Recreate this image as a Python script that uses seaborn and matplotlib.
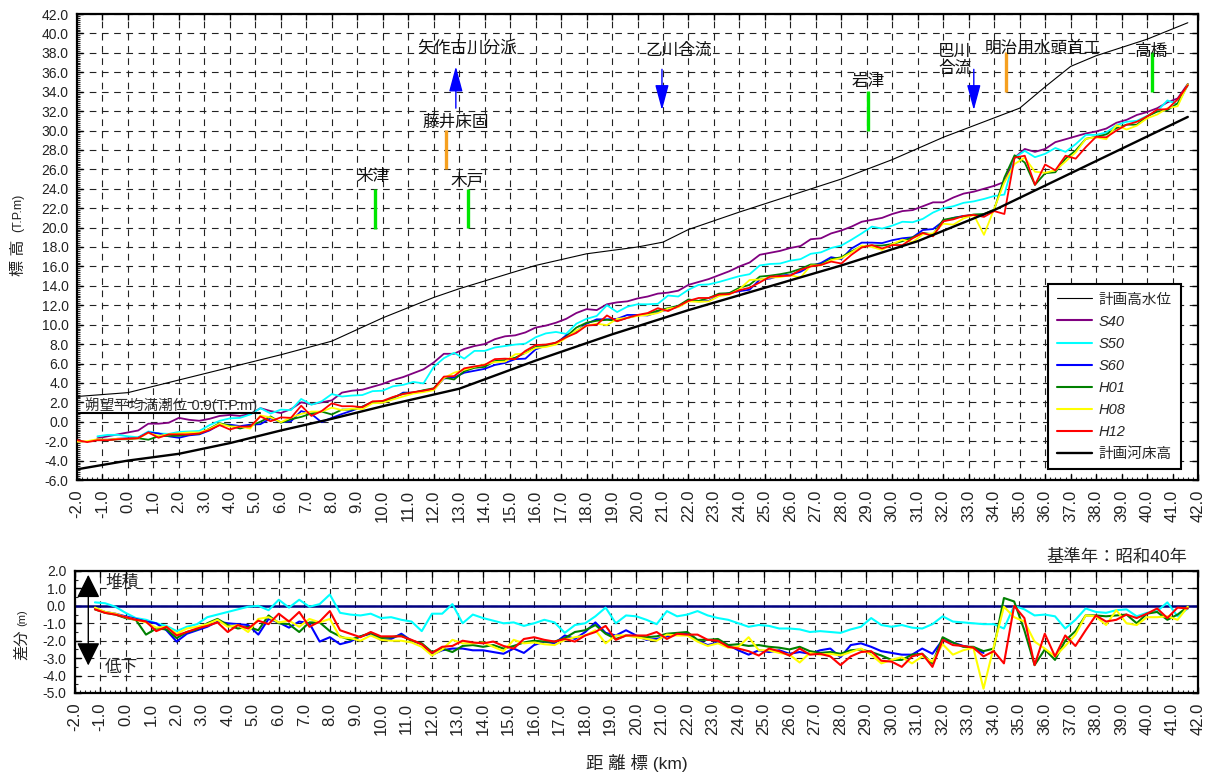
import numpy as np
import pandas as pd
import matplotlib
matplotlib.use("Agg")
import matplotlib.pyplot as plt
from matplotlib.lines import Line2D
from matplotlib.ticker import MultipleLocator, FormatStrFormatter
import seaborn as sns

sns.set_style("ticks")
plt.rcParams["font.family"] = ["Liberation Sans", "Noto Sans CJK JP"]
plt.rcParams["axes.unicode_minus"] = False

# ---------------------------------------------------------------- data
# survey stations (km), every 400 m
km = np.round(np.arange(-1.2, 41.6 + 0.01, 0.4), 1)

# 昭和40年 (S40) mean bed elevation, T.P.m
s40 = [-1.7, -1.5, -1.3, -1.1, -0.9, -0.2, -0.2, -0.1, 0.4, 0.2, 0.1, 0.3, 0.6, 0.7,
       0.6, 0.8, 1.4, 1.1, 0.9, 1.3, 2.0, 1.8, 2.0, 2.2, 3.0, 3.2, 3.3,
       3.6, 3.9, 4.3, 4.6, 5.0, 5.4, 6.1, 7.0, 7.0, 7.5, 7.8, 8.0, 8.5, 8.8,
       8.9, 9.2, 9.7, 9.9, 10.2, 10.6, 11.2, 11.6, 11.5, 12.1, 12.3, 12.4, 12.7,
       12.9, 13.2, 13.3, 13.5, 14.1, 14.4, 14.7, 15.1, 15.5, 16.0, 16.4, 17.2, 17.4, 17.6,
       17.9, 18.1, 18.8, 18.9, 19.4, 19.7, 20.1, 20.6, 20.8, 21.0, 21.4, 21.7, 21.8, 22.2,
       22.6, 22.6, 23.1, 23.5, 23.7, 24.0, 24.3, 24.7, 27.2, 28.1, 27.8, 28.1, 28.8,
       29.1, 29.4, 29.7, 29.9, 30.2, 30.8, 31.1, 31.6, 31.9, 32.3, 32.9, 33.3, 34.8]

# change from S40 (m) for each later survey
d_s50 = [0.2, 0.15, -0.05, -0.4, -0.7, -0.8, -1.0, -1.15, -1.45, -1.2, -1.05, -0.65, -0.5,
         -0.35, -0.2, -0.05, 0.0, -0.25, 0.35, -0.1, 0.35, -0.05, 0.1, 0.65, -0.4, -0.5, -0.55,
         -0.45, -0.7, -0.65, -0.8, -0.9, -1.45, -0.45, -0.45, 0.1, -1.0, -0.5, -0.7, -0.85,
         -1.0, -0.95, -1.15, -1.0, -0.8, -0.95, -1.55, -1.1, -1.0, -0.6, -0.1, -1.0, -0.55, -0.6,
         -0.8, -1.05, -0.3, -0.6, -0.5, -0.3, -0.55, -0.7, -0.8, -1.0, -1.2, -1.1, -1.15, -1.3,
         -1.3, -1.35, -1.5, -1.45, -1.5, -1.55, -1.35, -1.2, -0.7, -1.1, -1.2, -1.1, -1.25, -1.3,
         -1.05, -0.6, -0.9, -0.95, -1.0, -1.05, -1.05, -1.3, 0.0, -0.2, -0.55, -0.5, -0.6,
         -1.3, -0.8, -0.15, -0.35, -0.4, -0.25, -0.2, -0.6, -0.4, -0.3, 0.2, -0.6, -0.15]
d_s60 = [-0.15, -0.35, -0.45, -0.6, -0.75, -0.9, -1.0, -1.4, -2.05, -1.6, -1.4, -1.2, -0.9,
         -1.0, -1.05, -1.1, -1.65, -0.75, -0.95, -1.25, -0.9, -1.0, -2.05, -1.8, -2.2, -2.05, -1.75,
         -1.6, -1.95, -1.9, -1.6, -2.0, -2.2, -2.8, -2.55, -2.45, -2.45, -2.55, -2.55, -2.65,
         -2.75, -2.45, -2.7, -2.25, -2.05, -2.15, -1.7, -1.9, -1.5, -0.95, -1.55, -1.7, -1.4, -1.7,
         -1.95, -1.9, -1.75, -1.65, -1.6, -2.0, -2.25, -2.1, -2.25, -2.55, -2.8, -2.55, -2.65,
         -2.55, -2.75, -2.65, -2.75, -2.55, -2.45, -2.95, -2.25, -2.15, -2.35, -2.6, -2.7, -2.8,
         -2.8, -2.45,
         -2.75, -1.95, -2.1, -2.3, -2.4, -2.7] + [np.nan] * 20
d_h01 = [-0.2, -0.4, -0.5, -0.7, -0.8, -1.65, -1.3, -1.35, -1.85, -1.5, -1.35, -1.0, -0.75,
         -1.1, -1.3, -1.2, -1.4, -0.55, -1.0, -1.05, -1.5, -0.95, -0.95, -1.45, -1.75, -1.95, -1.75,
         -1.55, -1.85, -1.8, -1.7, -2.0, -2.15, -2.65, -2.45, -2.65, -2.3, -2.25, -2.35, -2.25,
         -2.45, -2.3, -2.1, -2.0, -2.05, -2.05, -1.85, -1.5, -1.4, -1.1, -1.6, -1.9, -1.7, -1.75,
         -1.8, -1.75, -1.6, -1.55, -1.5, -1.95, -1.95, -1.9, -2.25, -2.2, -2.3, -2.25, -2.35,
         -2.4, -2.5, -2.35, -2.6, -2.7, -2.65, -2.75, -2.55, -2.5, -2.65, -2.85, -3.1, -3.1,
         -2.8, -2.75,
         -3.3, -1.8, -2.1, -2.35, -2.35, -2.6, -2.45, 0.45, 0.25, -1.4, -3.4, -2.5, -3.1,
         -2.0, -1.45, -0.55, -0.55, -0.6, -0.55, -0.5, -1.0, -0.45, -0.35, -0.8, -0.5, -0.05]
d_h08 = [-0.1, -0.35, -0.45, -0.65, -0.8, -0.95, -1.25, -1.2, -1.6, -1.3, -1.2, -1.05, -0.8,
         -1.2, -1.1, -1.5, -0.75, -0.65, -0.95, -0.85, -1.2, -0.75, -0.95, -0.75, -1.8, -1.85, -2.0,
         -1.7, -1.95, -2.0, -2.0, -2.1, -2.35, -2.85, -2.5, -1.95, -2.15, -2.15, -2.1, -2.35,
         -2.6, -1.95, -2.15, -2.1, -2.2, -2.25, -1.95, -1.8, -1.7, -1.4, -2.15, -1.7, -1.7, -1.8,
         -1.9, -2.0, -1.65, -1.7, -1.7, -2.05, -2.3, -2.15, -2.4, -2.35, -1.8, -2.55, -2.55,
         -2.7, -2.8, -3.25, -2.7, -2.8, -2.75, -2.85, -2.65, -2.45, -2.8, -3.3, -3.1, -2.95,
         -3.3, -2.9,
         -3.2, -2.2, -2.8, -2.55, -2.4, -4.75, -2.35, -0.05, -0.65, -0.9, -2.05, -2.45, -2.9,
         -2.3, -1.65, -0.55, -0.6, -1.1, -0.25, -1.0, -1.1, -0.65, -0.65, -0.6, -0.8, -0.05]
d_h12 = [-0.2, -0.4, -0.5, -0.65, -0.8, -0.9, -1.45, -1.2, -1.7, -1.5, -1.3, -1.15, -0.95,
         -1.5, -1.1, -1.3, -0.85, -1.05, -0.45, -0.9, -0.35, -1.2, -0.9, -0.3, -1.4, -1.6, -1.8,
         -1.5, -1.75, -1.75, -1.75, -1.95, -2.2, -2.7, -2.35, -2.3, -2.0, -2.1, -2.15, -2.05,
         -2.3, -2.45, -1.9, -1.8, -1.95, -2.05, -1.9, -2.05, -1.7, -1.5, -1.15, -1.95, -1.7, -1.7,
         -1.7, -1.5, -1.9, -1.6, -1.65, -1.65, -1.95, -2.0, -2.35, -2.45, -2.6, -2.85, -2.45,
         -2.6, -2.85, -2.45, -2.8, -2.75, -2.9, -3.4, -2.9, -2.65, -2.6, -3.15, -3.2, -3.5,
         -2.9, -2.75,
         -3.5, -1.95, -2.25, -2.3, -2.4, -2.9, -2.6, -3.3, 0.0, -0.7, -3.4, -1.6, -2.9,
         -1.7, -2.3, -1.4, -0.55, -0.9, -0.8, -0.5, -0.7, -0.45, -0.15, -0.7, -0.1, -0.15]

# H08 / H12 surveys also cover the river mouth reach
mouth_km = [-2.0, -1.6]
h08_mouth = [-2.05, -2.0]
h12_mouth = [-1.9, -2.1]

# design high water level and design bed profile
hwl_km = [-2, 0, 2, 4, 6, 8, 9, 10, 12, 13, 14, 16, 18, 20, 21, 22, 24, 26, 28, 30,
          32, 34, 35, 36, 37, 38, 40, 41.6]
hwl = [2.6, 3.0, 4.3, 5.6, 6.9, 8.3, 9.5, 10.7, 12.8, 13.7, 14.5, 16.1, 17.3, 18.0, 18.5,
       19.8, 21.6, 23.3, 25.0, 27.0, 29.3, 31.3, 32.3, 34.5, 36.6, 37.7, 39.4, 41.1]
bed_km = [-2, 0, 2, 4, 6, 8, 10, 13, 16, 19, 22, 25, 28, 31, 34, 41.6]
bed = [-4.9, -4.0, -3.3, -2.2, -0.9, 0.3, 1.6, 3.4, 6.3, 9.0, 11.5, 13.8, 16.1, 18.6,
       21.8, 31.4]

mean_high_tide = 0.9

series = ["S40", "S50", "S60", "H01", "H08", "H12"]
colors = {"S40": "#800080", "S50": "#00FFFF", "S60": "#0000FF",
          "H01": "#008000", "H08": "#FFFF00", "H12": "#FF0000"}
diffs = {"S50": d_s50, "S60": d_s60, "H01": d_h01, "H08": d_h08, "H12": d_h12}

# ---------------------------------------------------------------- tables
base = np.array(s40, dtype=float)
rows_top, rows_diff = [], []
for name in series:
    if name == "S40":
        elev = base
    else:
        d = np.array(diffs[name], dtype=float)
        elev = base + d
        rows_diff.append(pd.DataFrame({"km": km, "diff": d, "series": name}))
    part = pd.DataFrame({"km": km, "elev": elev, "series": name})
    if name == "H08":
        part = pd.concat([pd.DataFrame({"km": mouth_km, "elev": h08_mouth, "series": name}), part])
    if name == "H12":
        part = pd.concat([pd.DataFrame({"km": mouth_km, "elev": h12_mouth, "series": name}), part])
    rows_top.append(part)
top_df = pd.concat(rows_top, ignore_index=True).dropna()
diff_df = pd.concat(rows_diff, ignore_index=True).dropna()

# ---------------------------------------------------------------- figure
W, H = 1211, 775
fig = plt.figure(figsize=(W / 100, H / 100), dpi=100)
ax = fig.add_axes([77 / W, 1 - 480 / H, (1198 - 77) / W, (480 - 14) / H])
bx = fig.add_axes([74.5 / W, 1 - 693 / H, (1198 - 74.5) / W, (693 - 571) / H])

grid_kw = dict(color="#222222", linestyle=(0, (6, 5)), linewidth=0.8)
tick_color = "#222222"


def style_axes(a, ymin, ymax, ystep, yminor):
    a.set_xlim(-2, 42)
    a.set_ylim(ymin, ymax)
    a.xaxis.set_major_locator(MultipleLocator(1))
    a.xaxis.set_minor_locator(MultipleLocator(0.2))
    a.yaxis.set_major_locator(MultipleLocator(ystep))
    a.yaxis.set_minor_locator(MultipleLocator(yminor))
    a.xaxis.set_major_formatter(FormatStrFormatter("%.1f"))
    a.yaxis.set_major_formatter(FormatStrFormatter("%.1f"))
    a.grid(True, which="major", **grid_kw)
    a.set_axisbelow(True)
    a.tick_params(which="major", direction="in", length=4.5, width=1.0,
                  top=True, right=True, colors="black", labelcolor=tick_color)
    a.tick_params(which="minor", direction="in", length=2.5, width=0.8,
                  bottom=True, left=True, top=False, right=False)
    a.tick_params(axis="x", which="major", labelsize=12, labelrotation=90, pad=7)
    a.tick_params(axis="y", which="major", labelsize=10, pad=6)
    for lab in a.get_xticklabels():
        lab.set_verticalalignment("top")
    for sp in a.spines.values():
        sp.set_linewidth(1.6)
        sp.set_color("black")
    a.set_xlabel("")
    a.set_ylabel("")


# ---------------------------------------------------------------- top panel
sns.lineplot(data=top_df, x="km", y="elev", hue="series", hue_order=series,
             palette=colors, estimator=None, sort=False, linewidth=1.3,
             legend=False, ax=ax, zorder=3)
sns.lineplot(x=hwl_km, y=hwl, color="black", linewidth=0.8, ax=ax, zorder=4)
sns.lineplot(x=bed_km, y=bed, color="black", linewidth=1.7, ax=ax, zorder=4)
ax.plot([-2, 5.2], [mean_high_tide, mean_high_tide], color="black", lw=1.5, zorder=4)
ax.text(-1.7, 1.75, f"朔望平均満潮位 {mean_high_tide}(T.P.m)", fontsize=10.5,
        color="#333333", ha="left", va="center", zorder=5)
style_axes(ax, -6, 42, 2, 0.2)

# facilities: gauging stations (green), weirs (orange), confluences (blue arrows)
bars = [(9.68, 19.9, 24.0, "#00E600"), (13.33, 20.0, 24.0, "#00E600"),
        (29.05, 30.0, 34.1, "#00E600"), (40.2, 34.0, 38.1, "#00E600"),
        (12.5, 26.0, 30.1, "#F5A020"), (34.45, 34.0, 38.1, "#F5A020")]
for x, y0, y1, c in bars:
    ax.plot([x, x], [y0, y1], color=c, lw=2.4, solid_capstyle="butt", zorder=5)

arrows = [(12.87, 32.3, 36.6), (20.96, 36.3, 32.1), (33.2, 36.3, 32.1)]
for x, y0, y1 in arrows:
    ax.annotate("", xy=(x, y1), xytext=(x, y0),
                arrowprops=dict(arrowstyle="-|>,head_length=1.3,head_width=0.35",
                                color="#0000FF", lw=1.0, shrinkA=0, shrinkB=0,
                                mutation_scale=12), zorder=5)

labels = [(13.31, 38.5, "矢作古川分派", "center"), (12.88, 30.8, "藤井床固", "center"),
          (9.62, 25.25, "米津", "center"), (13.31, 24.8, "木戸", "center"),
          (21.6, 38.3, "乙川合流", "center"), (29.05, 35.05, "岩津", "center"),
          (31.8, 38.2, "巴川", "left"), (31.8, 36.4, "合流", "left"),
          (35.92, 38.55, "明治用水頭首工", "center"), (40.18, 38.1, "高橋", "center")]
for x, y, t, ha in labels:
    ax.text(x, y, t, fontsize=12, ha=ha, va="center", color="#111111", zorder=6)

handles = [Line2D([], [], color="black", lw=0.8)]
handles += [Line2D([], [], color=colors[s], lw=1.5) for s in series]
handles += [Line2D([], [], color="black", lw=1.7)]
names = ["計画高水位"] + series + ["計画河床高"]
leg = ax.legend(handles, names, loc="upper left", bbox_to_anchor=(0.866, 0.421),
                borderaxespad=0, frameon=True, fancybox=False, framealpha=1,
                edgecolor="black", handlelength=2.4,
                handletextpad=0.5, labelspacing=0.55, borderpad=0.6,
                prop={"style": "italic", "size": 10.5})
leg.get_frame().set_linewidth(1.5)
leg.set_zorder(10)

# ---------------------------------------------------------------- difference panel
bx.axhline(0, color="#000080", lw=1.8, zorder=2)
sns.lineplot(data=diff_df, x="km", y="diff", hue="series", hue_order=series[1:],
             palette=colors, estimator=None, sort=False, linewidth=1.5,
             legend=False, ax=bx, zorder=3)
style_axes(bx, -5, 2, 1, 0.5)

bx.annotate("", xy=(-1.46, 1.78), xytext=(-1.46, -3.42),
            arrowprops=dict(arrowstyle="<|-|>,head_length=0.9,head_width=0.45",
                            color="black", lw=1.0, shrinkA=0, shrinkB=0,
                            mutation_scale=16), zorder=5)
bx.text(-0.8, 1.36, "堆積", fontsize=12, ha="left", va="center", zorder=6)
bx.text(-0.8, -3.52, "低下", fontsize=12, ha="left", va="center", zorder=6)
fig.text(1187 / W, 1 - 557 / H, "基準年：昭和40年", fontsize=12.5,
         ha="right", va="center")

# ---------------------------------------------------------------- axis titles
fig.text(18 / W, 1 - 258 / H, "標 高", rotation=90, fontsize=11.5,
         ha="center", va="center", color="#222222")
fig.text(18 / W, 1 - 213 / H, "(T.P.m)", rotation=90, fontsize=9,
         ha="center", va="center", color="#222222")
fig.text(22 / W, 1 - 645 / H, "差分", rotation=90, fontsize=11,
         ha="center", va="center", color="#222222")
fig.text(22 / W, 1 - 618 / H, "(m)", rotation=90, fontsize=8,
         ha="center", va="center", color="#222222")
fig.text(637 / W, 1 - 763 / H, "距 離 標 (km)", fontsize=12.5,
         ha="center", va="center", color="#222222")

fig.savefig("out.png", dpi=100)
